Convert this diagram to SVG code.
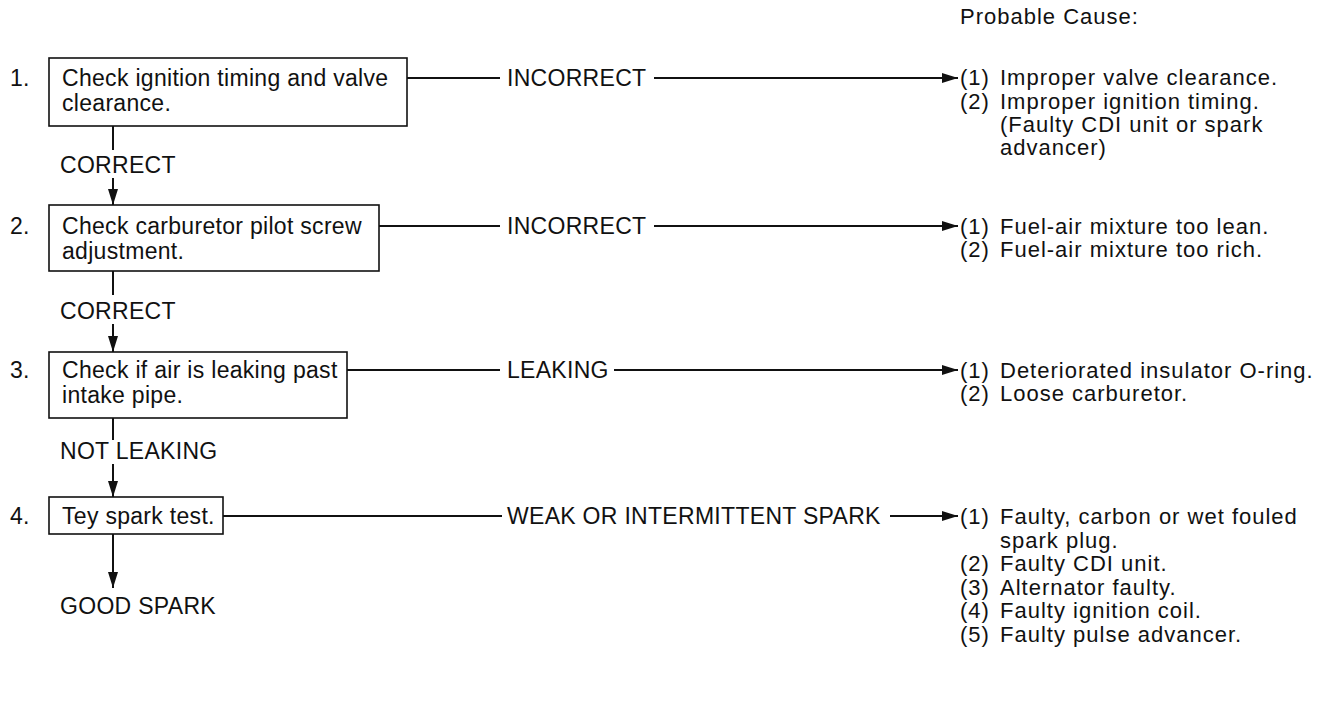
<svg xmlns="http://www.w3.org/2000/svg" width="1343" height="701" viewBox="0 0 1343 701">
<style>
text{font-family:"Liberation Sans",Arial,sans-serif;fill:#111;}
.t{font-size:23px;letter-spacing:0.3px;}
.c{font-size:22px;letter-spacing:1px;}
.box{fill:#fff;stroke:#111;stroke-width:1.6;}
.ln{stroke:#111;stroke-width:2;fill:none;}
</style>
<defs>
<marker id="ah" markerWidth="16" markerHeight="10" refX="16" refY="5" orient="auto" markerUnits="userSpaceOnUse">
<path d="M0,0 L16,5 L0,10 Z" fill="#111"/>
</marker>
</defs>
<rect width="1343" height="701" fill="#fff"/>
<text class="c" x="960" y="24">Probable Cause:</text>

<g id="step1">
<text class="t" x="10" y="86">1.</text>
<rect class="box" x="49" y="58" width="358" height="68"/>
<text class="t" x="62" y="86">Check ignition timing and valve</text>
<text class="t" x="62" y="111">clearance.</text>
</g>
<g id="step2">
<text class="t" x="10" y="234">2.</text>
<rect class="box" x="49" y="205" width="330" height="66"/>
<text class="t" x="62" y="234">Check carburetor pilot screw</text>
<text class="t" x="62" y="259">adjustment.</text>
</g>
<g id="step3">
<text class="t" x="10" y="378">3.</text>
<rect class="box" x="49" y="352" width="298" height="66"/>
<text class="t" x="62" y="378">Check if air is leaking past</text>
<text class="t" x="62" y="403">intake pipe.</text>
</g>
<g id="step4">
<text class="t" x="10" y="524">4.</text>
<rect class="box" x="49" y="497" width="174" height="37"/>
<text class="t" x="62" y="524">Tey spark test.</text>
</g>
<g id="end">
<text class="t" x="60" y="614">GOOD SPARK</text>
</g>

<g id="cause1">
<text class="c" x="960" y="85">(1)</text><text class="c" x="1000" y="85">Improper valve clearance.</text>
<text class="c" x="960" y="109">(2)</text><text class="c" x="1000" y="109">Improper ignition timing.</text>
<text class="c" x="1000" y="132">(Faulty CDI unit or spark</text>
<text class="c" x="1000" y="155">advancer)</text>
</g>
<g id="cause2">
<text class="c" x="960" y="234">(1)</text><text class="c" x="1000" y="234">Fuel-air mixture too lean.</text>
<text class="c" x="960" y="257">(2)</text><text class="c" x="1000" y="257">Fuel-air mixture too rich.</text>
</g>
<g id="cause3">
<text class="c" x="960" y="378">(1)</text><text class="c" x="1000" y="378">Deteriorated insulator O-ring.</text>
<text class="c" x="960" y="401">(2)</text><text class="c" x="1000" y="401">Loose carburetor.</text>
</g>
<g id="cause4">
<text class="c" x="960" y="524">(1)</text><text class="c" x="1000" y="524">Faulty, carbon or wet fouled</text>
<text class="c" x="1000" y="547.5">spark plug.</text>
<text class="c" x="960" y="571">(2)</text><text class="c" x="1000" y="571">Faulty CDI unit.</text>
<text class="c" x="960" y="594.5">(3)</text><text class="c" x="1000" y="594.5">Alternator faulty.</text>
<text class="c" x="960" y="618">(4)</text><text class="c" x="1000" y="618">Faulty ignition coil.</text>
<text class="c" x="960" y="641.5">(5)</text><text class="c" x="1000" y="641.5">Faulty pulse advancer.</text>
</g>

<g id="connectors">
<line class="ln" x1="407" y1="78" x2="500" y2="78"/>
<text class="t" x="507" y="86">INCORRECT</text>
<line class="ln" x1="654" y1="78" x2="958" y2="78" marker-end="url(#ah)"/>

<line class="ln" x1="379" y1="226" x2="500" y2="226"/>
<text class="t" x="507" y="234">INCORRECT</text>
<line class="ln" x1="654" y1="226" x2="958" y2="226" marker-end="url(#ah)"/>

<line class="ln" x1="347" y1="370" x2="500" y2="370"/>
<text class="t" x="507" y="378">LEAKING</text>
<line class="ln" x1="614" y1="370" x2="958" y2="370" marker-end="url(#ah)"/>

<line class="ln" x1="223" y1="516" x2="502" y2="516"/>
<text class="t" x="507" y="524">WEAK OR INTERMITTENT SPARK</text>
<line class="ln" x1="890" y1="516" x2="958" y2="516" marker-end="url(#ah)"/>

<line class="ln" x1="113" y1="126" x2="113" y2="150"/>
<text class="t" x="60" y="173">CORRECT</text>
<line class="ln" x1="113" y1="178" x2="113" y2="205" marker-end="url(#ah)"/>

<line class="ln" x1="113" y1="271" x2="113" y2="295"/>
<text class="t" x="60" y="319">CORRECT</text>
<line class="ln" x1="113" y1="324" x2="113" y2="352" marker-end="url(#ah)"/>

<line class="ln" x1="113" y1="418" x2="113" y2="440"/>
<text class="t" x="60" y="459">NOT LEAKING</text>
<line class="ln" x1="113" y1="464" x2="113" y2="497" marker-end="url(#ah)"/>

<line class="ln" x1="113" y1="534" x2="113" y2="588" marker-end="url(#ah)"/>
</g>
</svg>
